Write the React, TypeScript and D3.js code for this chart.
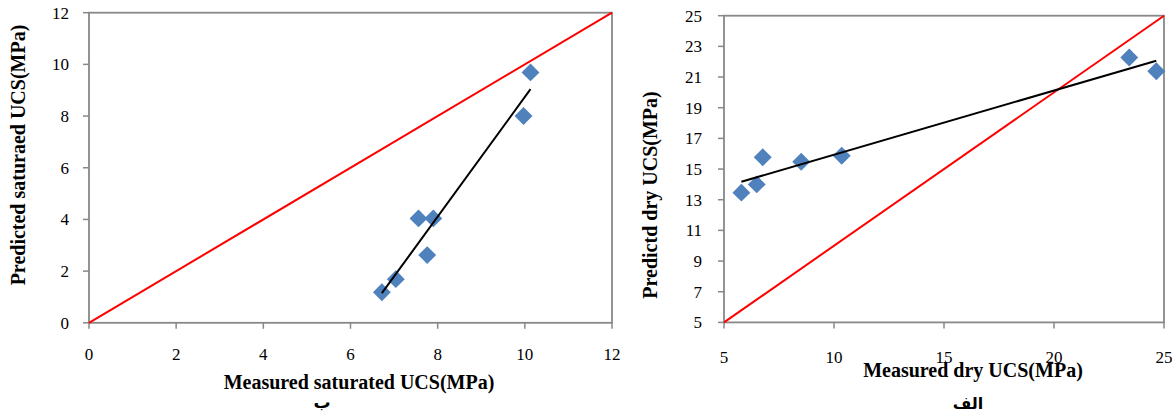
import React from "react";
import * as d3 from "d3";

// Left chart (saturated)
const satMeasured = [6.72, 7.04, 7.56, 7.9, 7.76, 9.97, 10.13];
const satPredicted = [1.18, 1.69, 4.04, 4.04, 2.62, 8.0, 9.69];
const satTicks = [0, 2, 4, 6, 8, 10, 12];

// Right chart (dry)
const dryMeasured = [5.79, 6.49, 6.76, 8.51, 10.35, 23.42, 24.65];
const dryPredicted = [13.46, 14.0, 15.77, 15.48, 15.87, 22.27, 21.38];
const dryXTicks = [5, 10, 15, 20, 25];
const dryYTicks = [5, 7, 9, 11, 13, 15, 17, 19, 21, 23, 25];

const SERIF = "'Liberation Serif', 'Times New Roman', serif";
const AXIS = "#888888";
const BLUE = "#4F81BD";

function fit(xs: number[], ys: number[]) {
  const mx = d3.mean(xs)!;
  const my = d3.mean(ys)!;
  let sxy = 0, sxx = 0;
  xs.forEach((x, i) => {
    sxy += (x - mx) * (ys[i] - my);
    sxx += (x - mx) * (x - mx);
  });
  const b = sxy / sxx;
  const a = my - b * mx;
  const x0 = d3.min(xs)!, x1 = d3.max(xs)!;
  return [[x0, a + b * x0], [x1, a + b * x1]];
}

function Panel(props: {
  xs: number[]; ys: number[]; xDomain: [number, number]; yDomain: [number, number];
  xRange: [number, number]; yRange: [number, number];
  xTicks: number[]; yTicks: number[]; yLabelRight: number; xLabelBase: number;
}) {
  const { xs, ys, xDomain, yDomain, xRange, yRange, xTicks, yTicks, yLabelRight, xLabelBase } = props;
  const x = d3.scaleLinear().domain(xDomain).range(xRange);
  const y = d3.scaleLinear().domain(yDomain).range(yRange);
  const tl = fit(xs, ys);
  const line = d3.line<number[]>().x(d => x(d[0])).y(d => y(d[1]));
  const diamond = d3.symbol().type(d3.symbolSquare).size(160)();
  return (
    <g>
      <rect x={xRange[0]} y={yRange[1]} width={xRange[1] - xRange[0]} height={yRange[0] - yRange[1]}
        fill="white" stroke={AXIS} strokeWidth={1.8} />
      {yTicks.map(t => (
        <g key={"y" + t}>
          <line x1={xRange[0] - 6} x2={xRange[0]} y1={y(t)} y2={y(t)} stroke={AXIS} strokeWidth={1.5} />
          <text x={yLabelRight} y={y(t)} dy="0.35em" textAnchor="end" fontFamily={SERIF} fontSize={17} fill="#000">{t}</text>
        </g>
      ))}
      {xTicks.map(t => (
        <g key={"x" + t}>
          <line x1={x(t)} x2={x(t)} y1={yRange[0]} y2={yRange[0] + 6} stroke={AXIS} strokeWidth={1.5} />
          <text x={x(t)} y={xLabelBase} textAnchor="middle" fontFamily={SERIF} fontSize={17} fill="#000">{t}</text>
        </g>
      ))}
      <path d={line([[xDomain[0], yDomain[0]], [xDomain[1], yDomain[1]]])!} stroke="#FF0000" strokeWidth={2} fill="none" />
      {xs.map((v, i) => (
        <path key={i} d={diamond!} transform={`translate(${x(v)},${y(ys[i])}) rotate(45)`} fill={BLUE} />
      ))}
      <path d={line(tl)!} stroke="#000" strokeWidth={2} fill="none" />
    </g>
  );
}

export default function App() {
  return (
    <svg width={1172} height={420} style={{ position: "absolute", left: 0, top: 0, background: "#fff" }}>
      <rect width={1172} height={420} fill="#fff" />
      <Panel xs={satMeasured} ys={satPredicted} xDomain={[0, 12]} yDomain={[0, 12]}
        xRange={[89, 612]} yRange={[322.8, 12.7]} xTicks={satTicks} yTicks={satTicks}
        yLabelRight={69} xLabelBase={360} />
      <Panel xs={dryMeasured} ys={dryPredicted} xDomain={[5, 25]} yDomain={[5, 25]}
        xRange={[724, 1164]} yRange={[322.4, 15.7]} xTicks={dryXTicks} yTicks={dryYTicks}
        yLabelRight={702} xLabelBase={363} />
      <text transform="translate(25,155) rotate(-90)" textAnchor="middle" fontFamily={SERIF} fontWeight="bold" fontSize={20}>Predicted saturaed UCS(MPa)</text>
      <text x={359} y={389} textAnchor="middle" fontFamily={SERIF} fontWeight="bold" fontSize={20}>Measured saturated UCS(MPa)</text>
      <text x={322} y={408} textAnchor="middle" fontFamily="'DejaVu Sans', sans-serif" fontWeight="bold" fontSize={17}>ب</text>
      <text transform="translate(657,195) rotate(-90)" textAnchor="middle" fontFamily={SERIF} fontWeight="bold" fontSize={20}>Predictd dry UCS(MPa)</text>
      <text x={973} y={377} textAnchor="middle" fontFamily={SERIF} fontWeight="bold" fontSize={20}>Measured dry UCS(MPa)</text>
      <text x={968} y={409} textAnchor="middle" fontFamily="'DejaVu Sans', sans-serif" fontWeight="bold" fontSize={16}>الف</text>
    </svg>
  );
}
